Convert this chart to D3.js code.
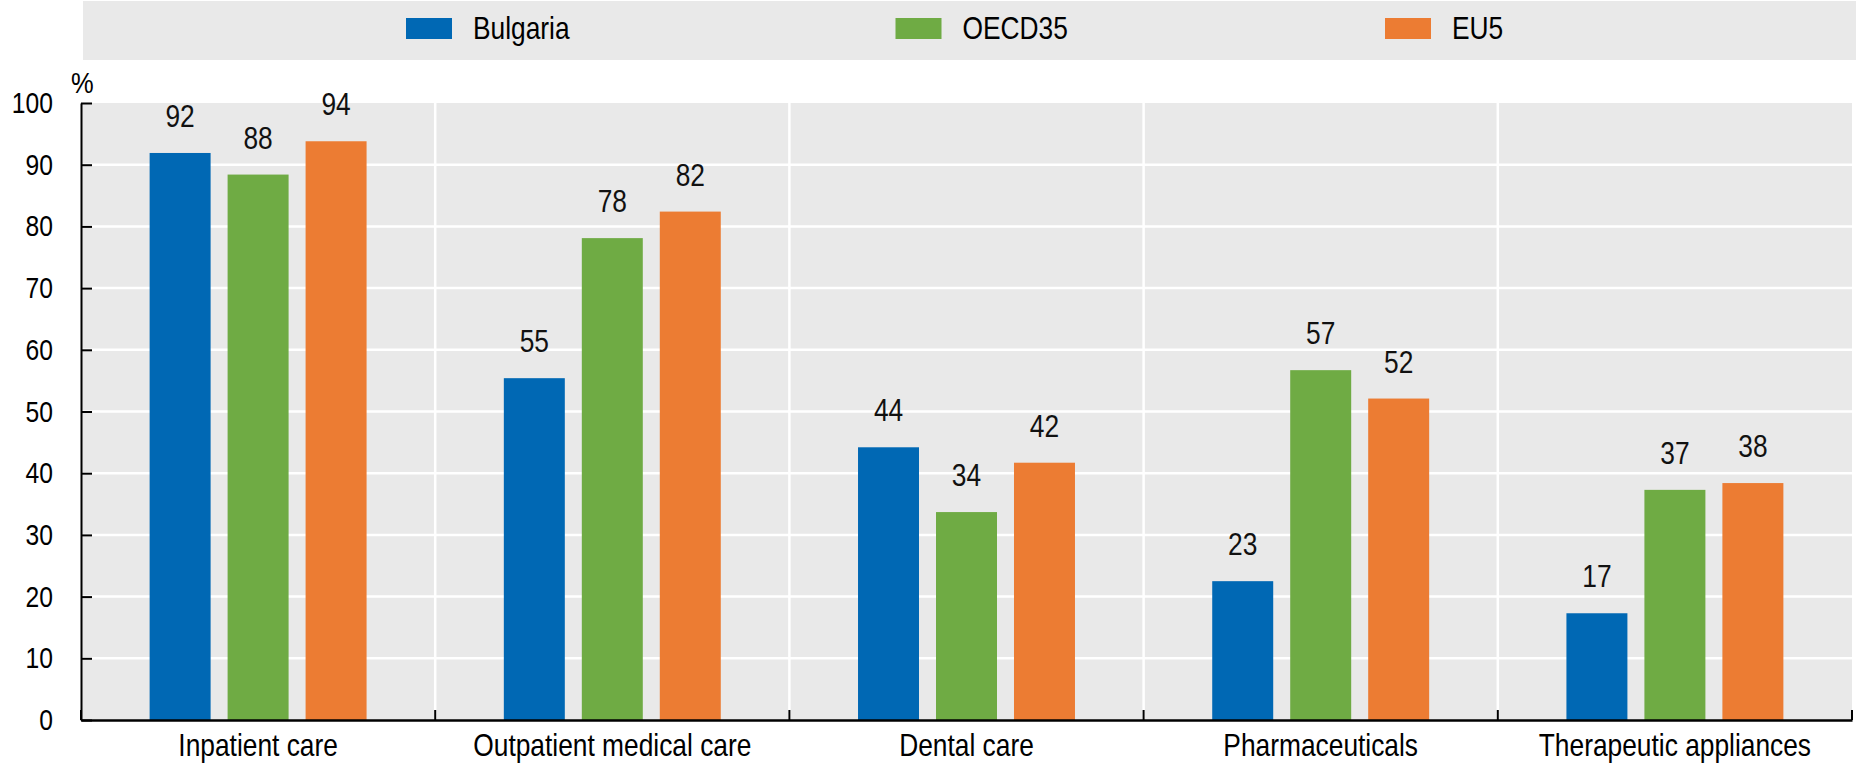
<!DOCTYPE html>
<html>
<head>
<meta charset="utf-8">
<script src="https://cdn.jsdelivr.net/npm/d3@7"></script>
<style>
  body { margin: 0; background: #fff; }
  svg { display: block; font-family: "Liberation Sans", Arial, sans-serif; }
</style>
</head>
<body>
<svg id="svg" width="1856" height="768"></svg>
<script>
var categories = ["Inpatient care", "Outpatient medical care", "Dental care", "Pharmaceuticals", "Therapeutic appliances"];
var series     = ["Bulgaria", "OECD35", "EU5"];
var bulgaria   = [91.9, 55.4, 44.2, 22.5, 17.3];
var oecd35     = [88.4, 78.1, 33.7, 56.7, 37.3];
var eu5        = [93.8, 82.4, 41.7, 52.1, 38.4];
var yTicks     = [0, 10, 20, 30, 40, 50, 60, 70, 80, 90, 100];

var values = [bulgaria, oecd35, eu5];
var colors = ["#0068b4", "#6fab44", "#ec7c33"];

var svg = d3.select("#svg");

var back = "#e9e9e9",
    grid = "#ffffff",
    ink  = "#000000",
    fs   = 31,
    sx   = 0.85;   // narrow the sans a bit, the original uses a condensed face

var pLeft = 81, pRight = 1852,
    pTop = 103, pBottom = 720;

var x = d3.scaleBand().domain(categories).range([pLeft, pRight]);
var xs = d3.scaleBand().domain(series).range([0, x.bandwidth()]).paddingInner(0.218).paddingOuter(0.88);
var y = d3.scaleLinear().domain([0, 100]).range([pBottom, pTop]);

// text at (px,py) squeezed horizontally
function at(px, py) { return "translate(" + px + "," + py + ") scale(" + sx + ",1)"; }

// legend strip
svg.append("rect").attr("x", 83).attr("y", 1).attr("width", 1856 - 83).attr("height", 59).attr("fill", back);
var lx = d3.scalePoint().domain(series).range([406, 1385]);
var lg = svg.selectAll(".leg").data(series).enter().append("g")
    .attr("transform", d => "translate(" + lx(d) + ",18)");
lg.append("rect").attr("width", 46).attr("height", 21).attr("fill", (d, i) => colors[i]);
lg.append("text").attr("transform", at(67, 21)).attr("font-size", fs).text(d => d);

// plot background and grid
svg.append("rect").attr("x", pLeft).attr("y", pTop).attr("width", pRight - pLeft).attr("height", pBottom - pTop).attr("fill", back);
svg.selectAll(".hg").data(yTicks.slice(1, -1)).enter().append("line")
    .attr("x1", pLeft).attr("x2", pRight).attr("y1", d => y(d)).attr("y2", d => y(d))
    .attr("stroke", grid).attr("stroke-width", 2.5);
svg.selectAll(".vg").data(categories.slice(1)).enter().append("line")
    .attr("x1", d => x(d)).attr("x2", d => x(d)).attr("y1", pTop).attr("y2", pBottom)
    .attr("stroke", grid).attr("stroke-width", 2.5);

// bars
var cells = [];
categories.forEach((c, ci) => series.forEach((s, si) => cells.push({c: c, s: s, si: si, v: values[si][ci]})));

svg.selectAll(".bar").data(cells).enter().append("rect")
    .attr("x", d => x(d.c) + xs(d.s)).attr("width", xs.bandwidth())
    .attr("y", d => y(d.v)).attr("height", d => y(0) - y(d.v))
    .attr("fill", d => colors[d.si]);

svg.selectAll(".lab").data(cells).enter().append("text")
    .attr("transform", d => at(x(d.c) + xs(d.s) + xs.bandwidth() / 2, y(d.v) - 26))
    .attr("text-anchor", "middle").attr("font-size", fs).attr("fill", "#111")
    .text(d => Math.round(d.v));

// axes
var yAxis = svg.append("g").attr("transform", "translate(" + pLeft + ",0)")
    .call(d3.axisRight(y).tickValues(yTicks).tickSize(11).tickSizeOuter(0).tickFormat(""));
yAxis.select(".domain").attr("stroke", ink).attr("stroke-width", 2);
yAxis.selectAll(".tick line").attr("stroke", ink).attr("stroke-width", 2);

var xAxis = svg.append("g").attr("transform", "translate(0," + pBottom + ")")
    .call(d3.axisTop(x).tickValues([]).tickSizeOuter(0));
xAxis.select(".domain").attr("stroke", ink).attr("stroke-width", 2.5);

svg.selectAll(".xt").data(categories.map(c => x(c)).concat([pRight])).enter().append("line")
    .attr("x1", d => d).attr("x2", d => d).attr("y1", pBottom).attr("y2", pBottom - 10)
    .attr("stroke", ink).attr("stroke-width", 2);

svg.selectAll(".yl").data(yTicks).enter().append("text")
    .attr("transform", d => at(53, y(d) + 10)).attr("text-anchor", "end").attr("font-size", 29)
    .text(d => d);

svg.append("text").attr("transform", at(71, 93)).attr("font-size", 30).text("%");

svg.selectAll(".cl").data(categories).enter().append("text")
    .attr("transform", d => at(x(d) + x.bandwidth() / 2, 756))
    .attr("text-anchor", "middle").attr("font-size", fs)
    .text(d => d);
</script>
</body>
</html>
